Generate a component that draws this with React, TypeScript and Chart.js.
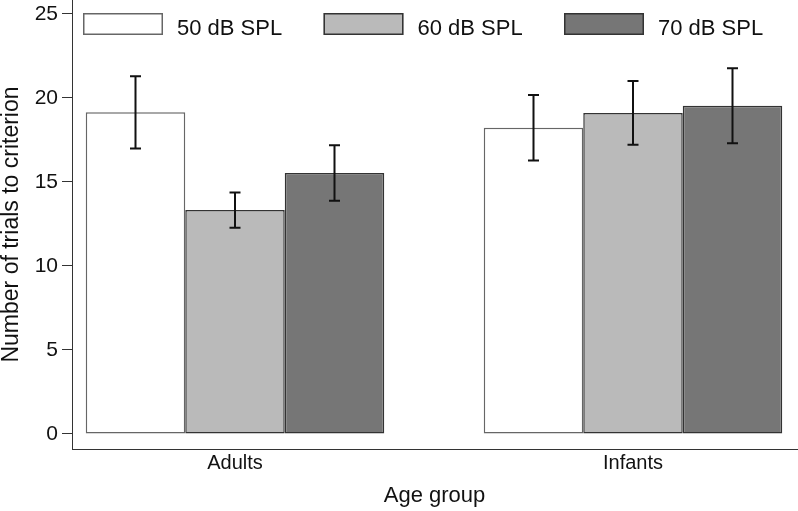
import { useEffect, useRef } from "react";
import { Chart, registerables } from "chart.js";

Chart.register(...registerables);

const groups = ["Adults", "Infants"];
const groupPositions = [1, 2];
const seriesLabels = ["50 dB SPL", "60 dB SPL", "70 dB SPL"];
const means50 = [19.15, 18.23];
const means60 = [13.33, 19.11];
const means70 = [15.54, 19.54];
const err50 = [2.15, 1.95];
const err60 = [1.05, 1.9];
const err70 = [1.65, 2.23];
const yTicks = [0, 5, 10, 15, 20, 25];

const fills = ["#ffffff", "#bababa", "#767676"];
const borders = ["#666666", "#333333", "#333333"];
const FONT = "'Liberation Sans', Arial, Helvetica, sans-serif";

const errorBarPlugin = {
  id: "errorBars",
  afterDatasetsDraw(chart: any) {
    const ctx = chart.ctx;
    const yScale = chart.scales.y;
    ctx.save();
    ctx.strokeStyle = "#111111";
    ctx.lineWidth = 2;
    chart.data.datasets.forEach((ds: any, di: number) => {
      const meta = chart.getDatasetMeta(di);
      meta.data.forEach((bar: any, i: number) => {
        const v = ds.data[i].y;
        const e = ds.errors[i];
        const top = yScale.getPixelForValue(v + e);
        const bot = yScale.getPixelForValue(v - e);
        const x = bar.x;
        const cap = 5.5;
        ctx.beginPath();
        ctx.moveTo(x, top);
        ctx.lineTo(x, bot);
        ctx.moveTo(x - cap, top);
        ctx.lineTo(x + cap, top);
        ctx.moveTo(x - cap, bot);
        ctx.lineTo(x + cap, bot);
        ctx.stroke();
      });
    });
    ctx.restore();
  },
};

const legendPlugin = {
  id: "boxLegend",
  afterDraw(chart: any) {
    const ctx = chart.ctx;
    const area = chart.chartArea;
    ctx.save();
    ctx.font = `22px ${FONT}`;
    ctx.textBaseline = "alphabetic";
    ctx.textAlign = "left";
    chart.data.datasets.forEach((ds: any, i: number) => {
      const x = area.left + 11 + i * 240.5;
      const y = area.top + 13;
      ctx.fillStyle = ds.backgroundColor;
      ctx.fillRect(x, y, 80, 22);
      ctx.strokeStyle = ds.borderColor;
      ctx.lineWidth = 1.5;
      ctx.strokeRect(x + 0.75, y + 0.75, 78.5, 20.5);
      ctx.fillStyle = "#111111";
      ctx.fillText(ds.label, x + 94, y + 21.5);
    });
    ctx.restore();
  },
};

export default function App() {
  const ref = useRef<HTMLCanvasElement | null>(null);

  useEffect(() => {
    if (!ref.current) return;
    const means = [means50, means60, means70];
    const errs = [err50, err60, err70];
    const chart = new Chart(ref.current, {
      type: "bar",
      data: {
        datasets: seriesLabels.map((label, s) => ({
          label,
          data: groupPositions.map((p, i) => ({ x: p, y: means[s][i] })),
          errors: errs[s],
          backgroundColor: fills[s],
          borderColor: borders[s],
          borderWidth: 1.5,
          borderSkipped: false,
          barPercentage: 1,
          categoryPercentage: 0.75,
        })) as any,
      },
      options: {
        animation: false,
        responsive: false,
        devicePixelRatio: 1,
        layout: { padding: { top: 0, right: 1, left: 0, bottom: 0 } },
        plugins: {
          legend: { display: false },
          tooltip: { enabled: false },
        },
        scales: {
          x: {
            type: "linear",
            offset: false,
            min: 0.59045,
            max: 2.41206,
            afterBuildTicks: (scale: any) => {
              scale.ticks = groupPositions.map((v) => ({ value: v }));
            },
            afterFit: (scale: any) => {
              scale.height = 62;
              scale.paddingLeft = 0;
              scale.paddingRight = 0;
            },
            ticks: {
              padding: 2,
              color: "#111111",
              font: { size: 20, family: FONT },
              callback: (v: any) => groups[groupPositions.indexOf(Number(v))] ?? "",
              maxRotation: 0,
              autoSkip: false,
            },
            grid: { display: false, drawTicks: false, offset: false },
            border: { display: true, color: "#333333", width: 1 },
            title: {
              display: true,
              text: "Age group",
              color: "#111111",
              font: { size: 22, family: FONT, lineHeight: 1 },
              padding: { top: 0, bottom: 4.5 },
            },
          },
          y: {
            type: "linear",
            min: -0.893,
            max: 25.833,
            afterBuildTicks: (scale: any) => {
              scale.ticks = yTicks.map((v) => ({ value: v }));
            },
            afterFit: (scale: any) => {
              scale.width = 72;
              scale.paddingTop = 0;
              scale.paddingBottom = 0;
            },
            ticks: {
              padding: 4,
              color: "#111111",
              font: { size: 21, family: FONT },
              autoSkip: false,
            },
            grid: {
              display: true,
              drawOnChartArea: false,
              drawTicks: true,
              tickLength: 10,
              color: "#333333",
              lineWidth: 1,
            },
            border: { display: true, color: "#333333", width: 1 },
            title: {
              display: true,
              text: "Number of trials to criterion",
              color: "#111111",
              font: { size: 23, family: FONT, lineHeight: 1 },
              padding: { top: 0, bottom: 0 },
            },
          },
        },
      },
      plugins: [errorBarPlugin, legendPlugin],
    });
    return () => chart.destroy();
  }, []);

  return (
    <div style={{ position: "absolute", left: 0, top: 0, width: 798, height: 511, background: "#ffffff" }}>
      <canvas ref={ref} width={798} height={511} style={{ display: "block" }} />
    </div>
  );
}
